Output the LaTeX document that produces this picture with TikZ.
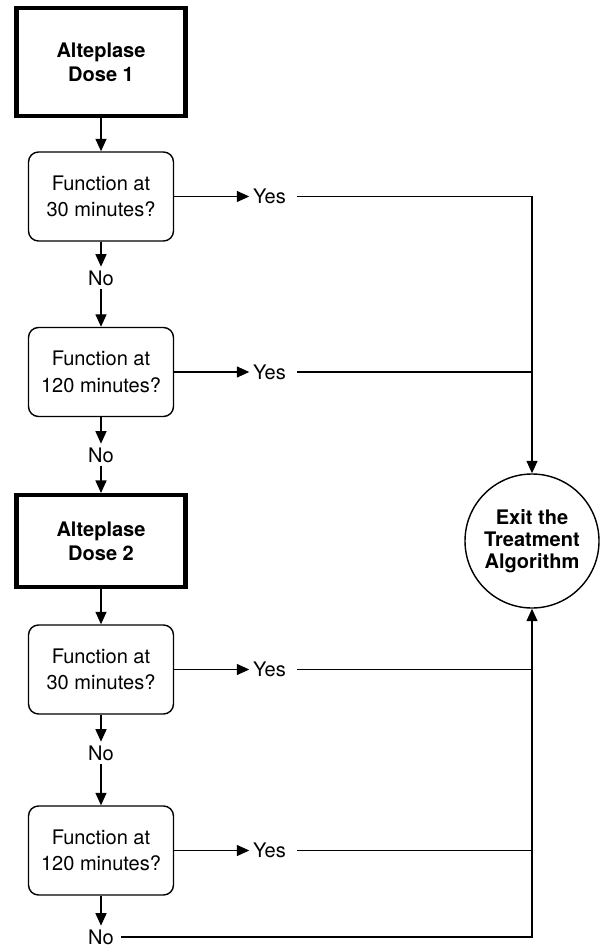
\documentclass[tikz,border=0pt]{standalone}
\usepackage{fontspec}
\setmainfont{TeX Gyre Heros}
\usetikzlibrary{positioning,arrows.meta}

\begin{document}
\begin{tikzpicture}[on grid,
  dose/.style={draw, line width=2.3pt, minimum width=3.38cm, inner sep=0pt, align=center,
    font=\bfseries\fontsize{11.4pt}{13.5pt}\selectfont},
  func/.style={draw, line width=0.8pt, rounded corners=0.2cm, minimum width=2.9cm,
    minimum height=1.78cm, inner sep=0pt, align=center, font=\fontsize{11.4pt}{15pt}\selectfont},
  lbl/.style={inner sep=2pt, font=\fontsize{11.4pt}{13pt}\selectfont},
  exitc/.style={draw, circle, line width=0.8pt, minimum size=2.68cm, inner sep=0pt, align=center,
    font=\bfseries\fontsize{11.4pt}{12.5pt}\selectfont},
  arr/.style={-{Triangle[width=0.22cm,length=0.25cm]}, line width=0.8pt},
  ln/.style={line width=0.8pt}]
\useasboundingbox (0,0) rectangle (11.98,-18.92);
%----------------------------------
\node [dose, minimum height=2.16cm] (d1) at (2.02,-1.24) {Alteplase\\Dose 1};
\node [func, below=2.69cm of d1] (f1) {Function at\\30 minutes?};
\node [lbl, below=1.63cm of f1] (n1) {No};
\node [func, below=1.88cm of n1] (f2) {Function at\\120 minutes?};
\node [lbl, below=1.66cm of f2] (n2) {No};
%----------------------------------
\node [dose, minimum height=1.84cm, below=1.72cm of n2] (d2) {Alteplase\\Dose 2};
\node [func, below=2.57cm of d2] (f3) {Function at\\30 minutes?};
\node [lbl, below=1.67cm of f3] (n3) {No};
\node [func, below=1.95cm of n3] (f4) {Function at\\120 minutes?};
\node [lbl, below=1.73cm of f4] (n4) {No};
%----------------------------------
\node [lbl, right=3.37cm of f1] (y1) {Yes};
\node [lbl, right=3.37cm of f2] (y2) {Yes};
\node [lbl, right=3.37cm of f3] (y3) {Yes};
\node [lbl, right=3.37cm of f4] (y4) {Yes};
\node [exitc, right=8.62cm of d2] (ex) {Exit the\\Treatment\\Algorithm};
%----------------------------------
\draw [arr] (d1) -- (f1);
\draw [arr] (f1) -- (n1); \draw [arr] (n1) -- (f2);
\draw [arr] (f2) -- (n2); \draw [arr] (n2) -- (d2);
\draw [arr] (d2) -- (f3);
\draw [arr] (f3) -- (n3); \draw [arr] (n3) -- (f4);
\draw [arr] (f4) -- (n4);
\draw [arr] (f1) -- (y1); \draw [arr] (f2) -- (y2); % yes
\draw [arr] (f3) -- (y3); \draw [arr] (f4) -- (y4);
%----------------------------------
\draw [arr, shorten <=4pt] (y1.east) -| (ex.north);
\draw [ln, shorten <=4pt] (y2.east) -- (y2.east -| ex.north);
\draw [ln, shorten <=4pt] (y3.east) -- (y3.east -| ex.south);
\draw [ln, shorten <=4pt] (y4.east) -- (y4.east -| ex.south);
\draw [arr, shorten <=2pt] (n4.east) -| (ex.south);
\end{tikzpicture}
\end{document}
